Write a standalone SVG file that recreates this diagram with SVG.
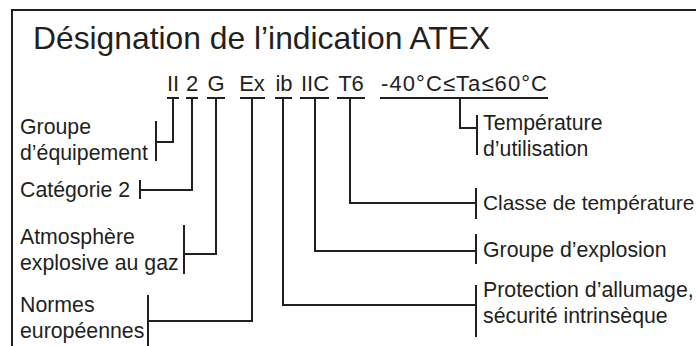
<svg xmlns="http://www.w3.org/2000/svg" width="696" height="346" viewBox="0 0 696 346">
<style>
text{font-family:"Liberation Sans",Arial,Helvetica,sans-serif;fill:#231f20}
.t{font-size:31.8px}
.c{font-size:22px;text-anchor:middle}
.l{font-size:21.3px}
.ln{fill:none;stroke:#231f20;stroke-width:2;stroke-linecap:butt;stroke-linejoin:miter}
</style>
<rect width="696" height="346" fill="#ffffff"/>
<path class="ln" d="M12,346 V10 H696"/>
<text class="t" x="33" y="49">Désignation de l’indication ATEX</text>
<g id="codes">
<text class="c" x="173" y="91">II</text>
<text class="c" x="192" y="91">2</text>
<text class="c" x="216" y="91">G</text>
<text class="c" x="252" y="91">Ex</text>
<text class="c" x="284" y="91">ib</text>
<text class="c" x="315" y="91">IIC</text>
<text class="c" x="351" y="91">T6</text>
<text class="c" x="464" y="91" textLength="166" lengthAdjust="spacing">-40°C≤Ta≤60°C</text>
</g>
<g id="connectors">
<path class="ln" d="M167,98 H179 M186,98 H198 M207,98 H225 M240,98 H265 M275,98 H292 M300,98 H329 M337,98 H365 M380,98 H548"/>
<path class="ln" d="M173,98 V142 H156 M156,121 V161"/>
<path class="ln" d="M192,98 V190 H140 M140,180 V199"/>
<path class="ln" d="M216,98 V254 H184 M184,225 V274"/>
<path class="ln" d="M252,98 V321 H148 M148,295 V346"/>
<path class="ln" d="M283,98 V305 H476 M476,285 V337"/>
<path class="ln" d="M315,98 V251 H476 M476,234 V264"/>
<path class="ln" d="M350,98 V203 H476 M476,188 V219"/>
<path class="ln" d="M460,98 V128 H477 M477,115 V155"/>
</g>
<g id="n-groupe-equipement"><text class="l" x="20" y="134">Groupe</text><text class="l" x="20" y="160">d’équipement</text></g>
<g id="n-categorie"><text class="l" x="20" y="197">Catégorie 2</text></g>
<g id="n-atmosphere"><text class="l" x="20" y="244">Atmosphère</text><text class="l" x="20" y="270">explosive au gaz</text></g>
<g id="n-normes"><text class="l" x="20" y="312">Normes</text><text class="l" x="20" y="338">européennes</text></g>
<g id="n-temperature-utilisation"><text class="l" x="483" y="130">Température</text><text class="l" x="483" y="156">d’utilisation</text></g>
<g id="n-classe"><text class="l" x="483" y="210" style="font-size:20.9px">Classe de température</text></g>
<g id="n-groupe-explosion"><text class="l" x="483" y="257">Groupe d’explosion</text></g>
<g id="n-protection"><text class="l" x="483" y="297">Protection d’allumage,</text><text class="l" x="483" y="323">sécurité intrinsèque</text></g>
</svg>
